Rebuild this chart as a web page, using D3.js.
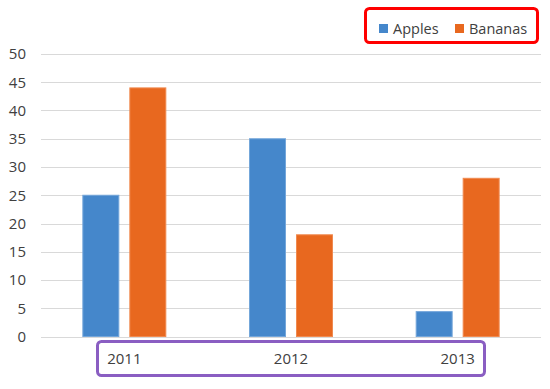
<!DOCTYPE html>
<html>
<head>
<meta charset="utf-8">
<script src="https://cdn.jsdelivr.net/npm/d3@7"></script>
<style>
  body { margin: 0; background: #fff; }
  svg text { font-family: "Open Sans", "Noto Sans", sans-serif; fill: #404040; }
</style>
</head>
<body>
<svg id="chart" width="550" height="389"></svg>
<script>
var years = ["2011", "2012", "2013"];
var seriesNames = ["Apples", "Bananas"];
var apples = [25, 35, 4.4];
var bananas = [44, 18, 28];
var yTicks = [0, 5, 10, 15, 20, 25, 30, 35, 40, 45, 50];

var colors = { Apples: "#4587cb", Bananas: "#e8681f" };
var edges = { Apples: "#74a6da", Bananas: "#f08a50" };

var svg = d3.select("#chart");

var x0 = d3.scaleBand().domain(years).range([41, 541]);
var x1 = d3.scaleBand().domain(seriesNames)
    .range([0, x0.bandwidth()])
    .paddingInner(0.213)
    .paddingOuter(0.88);
var y = d3.scaleLinear().domain([0, 50]).range([336.5, 54]);

// gridlines
svg.append("g")
    .selectAll("line")
    .data(yTicks)
    .enter().append("line")
    .attr("x1", 41)
    .attr("x2", 541)
    .attr("y1", function (d) { return Math.round(y(d)) + 0.5; })
    .attr("y2", function (d) { return Math.round(y(d)) + 0.5; })
    .attr("stroke", "#d9d9d9")
    .attr("stroke-width", 1);

// y axis labels
var yAxis = d3.axisLeft(y).tickValues(yTicks).tickSize(0).tickPadding(0);
var yg = svg.append("g").attr("transform", "translate(26,0)").call(yAxis);
yg.select(".domain").remove();
yg.selectAll("text")
    .attr("font-size", 15)
    .attr("font-family", null)
    .attr("fill", null);

// bars
var rows = years.map(function (yr, i) {
    return { year: yr, values: [{ key: "Apples", v: apples[i] }, { key: "Bananas", v: bananas[i] }] };
});

var groups = svg.append("g")
    .selectAll("g")
    .data(rows)
    .enter().append("g")
    .attr("transform", function (d) { return "translate(" + x0(d.year) + ",0)"; });

groups.selectAll("rect")
    .data(function (d) { return d.values; })
    .enter().append("rect")
    .attr("x", function (d) { return x1(d.key) + 0.5; })
    .attr("y", function (d) { return y(d.v); })
    .attr("width", x1.bandwidth() - 1)
    .attr("height", function (d) { return y(0) - y(d.v); })
    .attr("fill", function (d) { return colors[d.key]; })
    .attr("stroke", function (d) { return edges[d.key]; })
    .attr("stroke-width", 1);

// x axis labels
var xAxis = d3.axisBottom(x0).tickSize(0).tickPadding(0);
var xg = svg.append("g").attr("transform", "translate(0,353)").call(xAxis);
xg.select(".domain").remove();
xg.selectAll("text")
    .attr("font-size", 15)
    .attr("font-family", null)
    .attr("fill", null);

// purple highlight box round the category labels
svg.append("rect")
    .attr("x", 97.5)
    .attr("y", 341.5)
    .attr("width", 387)
    .attr("height", 34)
    .attr("rx", 4)
    .attr("fill", "none")
    .attr("stroke", "#8a5ec2")
    .attr("stroke-width", 3);

// legend
var legendX = [379, 455];
var legend = svg.append("g")
    .selectAll("g")
    .data(seriesNames)
    .enter().append("g")
    .attr("transform", function (d, i) { return "translate(" + legendX[i] + ",24)"; });

legend.append("rect")
    .attr("width", 9)
    .attr("height", 9)
    .attr("fill", function (d) { return colors[d]; });

legend.append("text")
    .attr("x", 14)
    .attr("y", 9.5)
    .attr("font-size", 14.5)
    .text(function (d) { return d; });

// red highlight box round the legend
svg.append("rect")
    .attr("x", 365.5)
    .attr("y", 8.5)
    .attr("width", 172)
    .attr("height", 34)
    .attr("rx", 4)
    .attr("fill", "none")
    .attr("stroke", "#ff0000")
    .attr("stroke-width", 3);
</script>
</body>
</html>
